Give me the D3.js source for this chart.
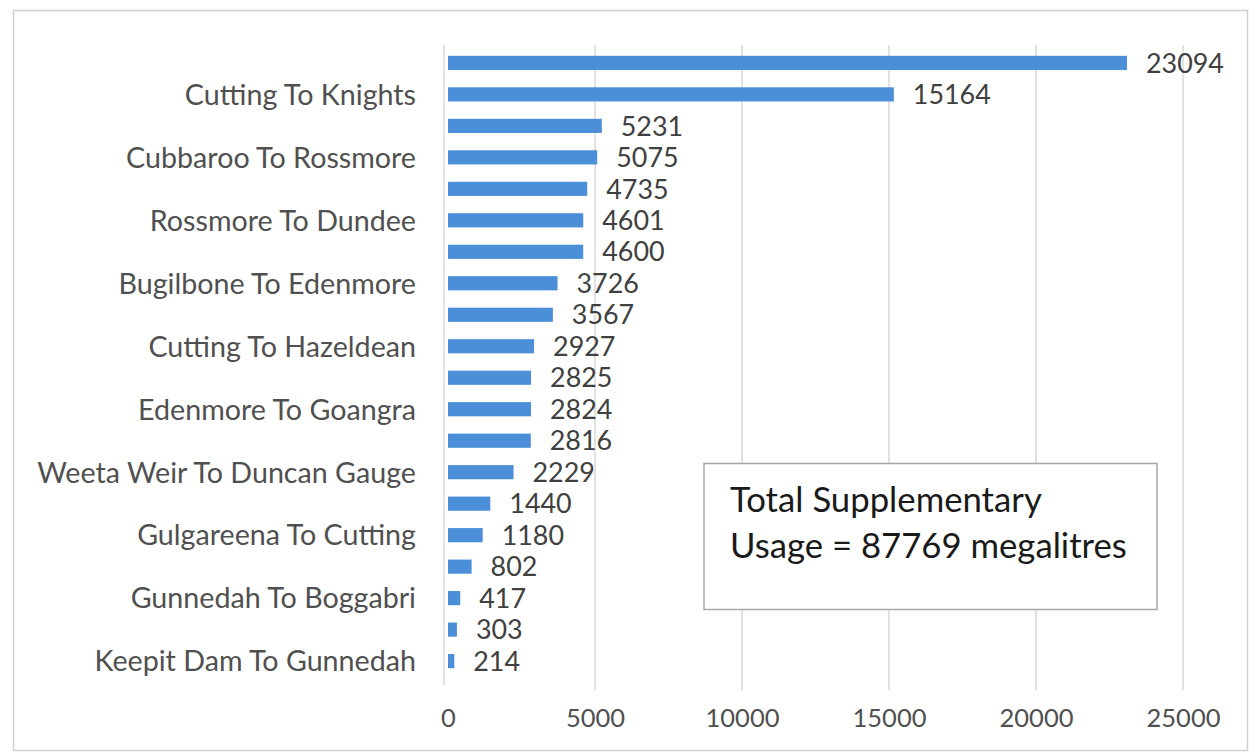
<!DOCTYPE html>
<html><head><meta charset="utf-8">
<script src="https://cdn.jsdelivr.net/npm/d3@7"></script>
<style>
html,body{margin:0;padding:0;background:#fff;}
svg{display:block;}
</style></head>
<body>
<svg id="chart" width="1256" height="756"></svg>
<script>
// ---- data ----
const categories = [
  "", "Cutting To Knights", "", "Cubbaroo To Rossmore", "", "Rossmore To Dundee",
  "", "Bugilbone To Edenmore", "", "Cutting To Hazeldean", "", "Edenmore To Goangra",
  "", "Weeta Weir To Duncan Gauge", "", "Gulgareena To Cutting", "", "Gunnedah To Boggabri",
  "", "Keepit Dam To Gunnedah"
];
const values = [23094, 15164, 5231, 5075, 4735, 4601, 4600, 3726, 3567, 2927,
                2825, 2824, 2816, 2229, 1440, 1180, 802, 417, 303, 214];
const xTicks = [0, 5000, 10000, 15000, 20000, 25000];
const noteLines = ["Total Supplementary", "Usage = 87769 megalitres"];

// ---- layout ----
const svg = d3.select("#chart");
const W = 1256, H = 756;
const plot = {left: 448, right: 1183, top: 47, bottom: 677};
const FONT = "Lato, 'Open Sans', sans-serif";

// fit font size so a string reaches a given width
function fitSize(str, width, weight) {
  const t = svg.append("text").attr("font-family", FONT).attr("font-size", 100)
    .attr("font-weight", weight || 400).text(str);
  const w = t.node().getComputedTextLength();
  t.remove();
  return 100 * width / w;
}

// outer border
svg.append("rect").attr("x", 13.5).attr("y", 10.5).attr("width", 1234).attr("height", 740)
  .attr("fill", "#fff").attr("stroke", "#d0d0d0").attr("stroke-width", 1.5);

const x = d3.scaleLinear().domain([0, 25000]).range([plot.left, plot.right]);
const y = d3.scaleBand().domain(d3.range(values.length)).range([plot.top, plot.bottom]).paddingInner(0.55).paddingOuter(0.28);

// gridlines
svg.append("g").selectAll("line").data(xTicks.slice(1)).join("line")
  .attr("x1", d => x(d)).attr("x2", d => x(d))
  .attr("y1", 45).attr("y2", 690)
  .attr("stroke", "#d9d9d9").attr("stroke-width", 1.5);

// vertical category axis line
svg.append("line").attr("x1", x(0) - 4).attr("x2", x(0) - 4).attr("y1", 45).attr("y2", 685)
  .attr("stroke", "#d9d9d9").attr("stroke-width", 1.5);

// bars
svg.append("g").selectAll("rect").data(values).join("rect")
  .attr("x", x(0)).attr("y", (d, i) => y(i))
  .attr("width", d => x(d) - x(0)).attr("height", y.bandwidth())
  .attr("fill", "#4a8fd8");

// value labels
const valSize = fitSize("15164", 78);
svg.append("g").selectAll("text").data(values).join("text")
  .attr("x", d => x(d) + 19).attr("y", (d, i) => y(i) + y.bandwidth() / 2)
  .attr("dy", "0.36em")
  .attr("font-family", FONT).attr("font-size", valSize).attr("fill", "#404040")
  .text(d => d);

// category labels
const catSize = fitSize("Weeta Weir To Duncan Gauge", 379);
svg.append("g").selectAll("text").data(categories).join("text")
  .attr("x", 416).attr("y", (d, i) => y(i) + y.bandwidth() / 2)
  .attr("dy", "0.36em").attr("text-anchor", "end")
  .attr("font-family", FONT).attr("font-size", catSize).attr("fill", "#505050")
  .text(d => d);

// x axis labels
const tickSize = fitSize("25000", 74);
const xAxis = d3.axisBottom(x).tickValues(xTicks).tickSize(0).tickPadding(0).tickFormat(d3.format("d"));
const gx = svg.append("g").attr("transform", `translate(0,${718})`).call(xAxis);
gx.select(".domain").remove();
gx.selectAll("text").attr("dy", "0.36em").attr("y", 0)
  .attr("font-family", FONT).attr("font-size", tickSize).attr("fill", "#505050");

// annotation box
svg.append("rect").attr("x", 704).attr("y", 463.5).attr("width", 453).attr("height", 146)
  .attr("fill", "#fff").attr("stroke", "#a6a6a6").attr("stroke-width", 1.5);
const noteSize = fitSize(noteLines[1], 397);
svg.append("g").selectAll("text").data(noteLines).join("text")
  .attr("x", 730).attr("y", (d, i) => 512 + i * 46)
  .attr("font-family", FONT).attr("font-size", noteSize).attr("fill", "#1a1a1a")
  .text(d => d);
</script>
</body></html>
